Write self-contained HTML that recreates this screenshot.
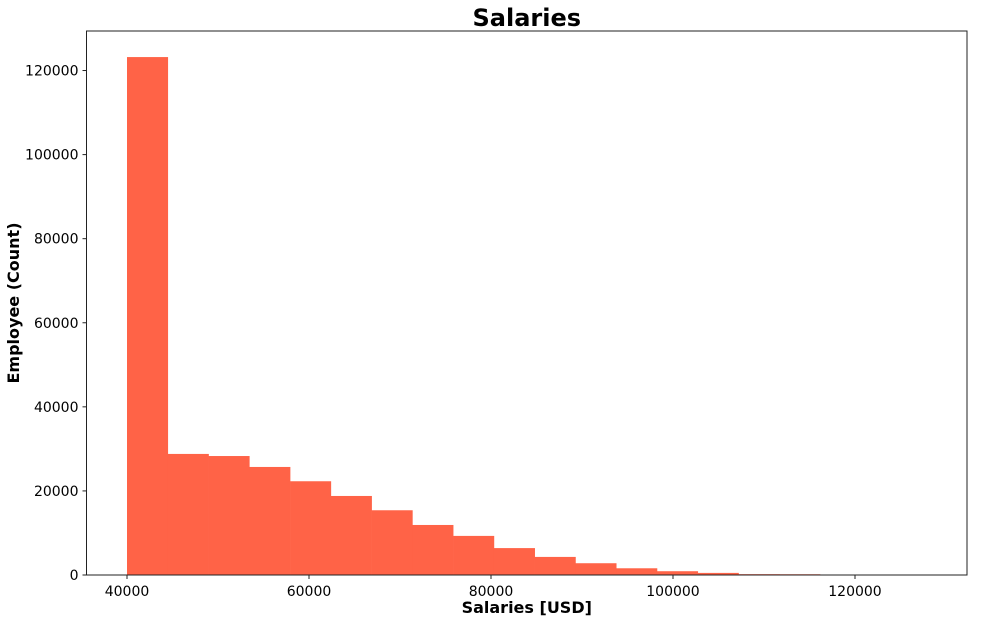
<!DOCTYPE html>
<html><head><meta charset="utf-8"><style>
body{margin:0;background:#fff;font-family:"DejaVu Sans","Liberation Sans",sans-serif}
</style></head><body>
<svg id="chart" width="986" height="622" xmlns="http://www.w3.org/2000/svg" font-family="DejaVu Sans, Liberation Sans, sans-serif"></svg>
<script>
const binStart = 40000;
const binEnd = 129600;
const counts = [123200, 28800, 28300, 25700, 22300, 18800, 15400, 11900, 9300, 6400, 4300, 2800, 1600, 900, 500, 200, 180, 10, 5, 2];
const xTicks = [40000, 60000, 80000, 100000, 120000];
const yTicks = [0, 20000, 40000, 60000, 80000, 100000, 120000];

const NS = "http://www.w3.org/2000/svg";
const svg = document.getElementById('chart');
const L = 86.5, R = 967, T = 31, B = 575;
const X = v => 127 + (v - 40000) * 0.0091;
const Y = v => B - v * 0.004204;
function el(tag, attrs, parent){const e=document.createElementNS(NS,tag);for(const k in attrs)e.setAttribute(k,attrs[k]);(parent||svg).appendChild(e);return e;}

const bw = (binEnd - binStart) / counts.length;
const g = el('g', {});


counts.forEach((c, i) => {
  const x0 = X(binStart + i*bw), x1 = X(binStart + (i+1)*bw);
  const r = el('rect', {x:x0, y:Y(c), width:x1-x0+0.3, height:B-Y(c), fill:'#ff6347'}, g);
  
  
});
const frame = el('rect', {x:L, y:T, width:R-L, height:B-T, fill:'none', stroke:'#222', 'stroke-width':1});



xTicks.forEach(v => {
  const x = X(v);
  el('line', {x1:x, x2:x, y1:B, y2:B+4, stroke:'#222'});
  const t = el('text', {x:x, y:B+21, 'font-size':14, 'text-anchor':'middle', fill:'#000'});
  t.textContent = v;
  
  
});
yTicks.forEach(v => {
  const y = Y(v);
  el('line', {x1:L-4, x2:L, y1:y, y2:y, stroke:'#222'});
  const t = el('text', {x:L-8, y:y+5, 'font-size':14, 'text-anchor':'end', fill:'#000'});
  t.textContent = v;
  
  
});
const title = el('text', {x:(L+R)/2, y:26, 'font-size':24, 'font-weight':'bold', 'text-anchor':'middle'});
title.textContent = 'Salaries';


const xt = el('text', {x:(L+R)/2, y:613, 'font-size':16, 'font-weight':'bold', 'text-anchor':'middle'});
xt.textContent = 'Salaries [USD]';


const yt = el('text', {x:0, y:0, 'font-size':16, 'font-weight':'bold', 'text-anchor':'middle', transform:'translate(19,'+((T+B)/2)+') rotate(-90)'});
yt.textContent = 'Employee (Count)';


</script>
</body></html>
